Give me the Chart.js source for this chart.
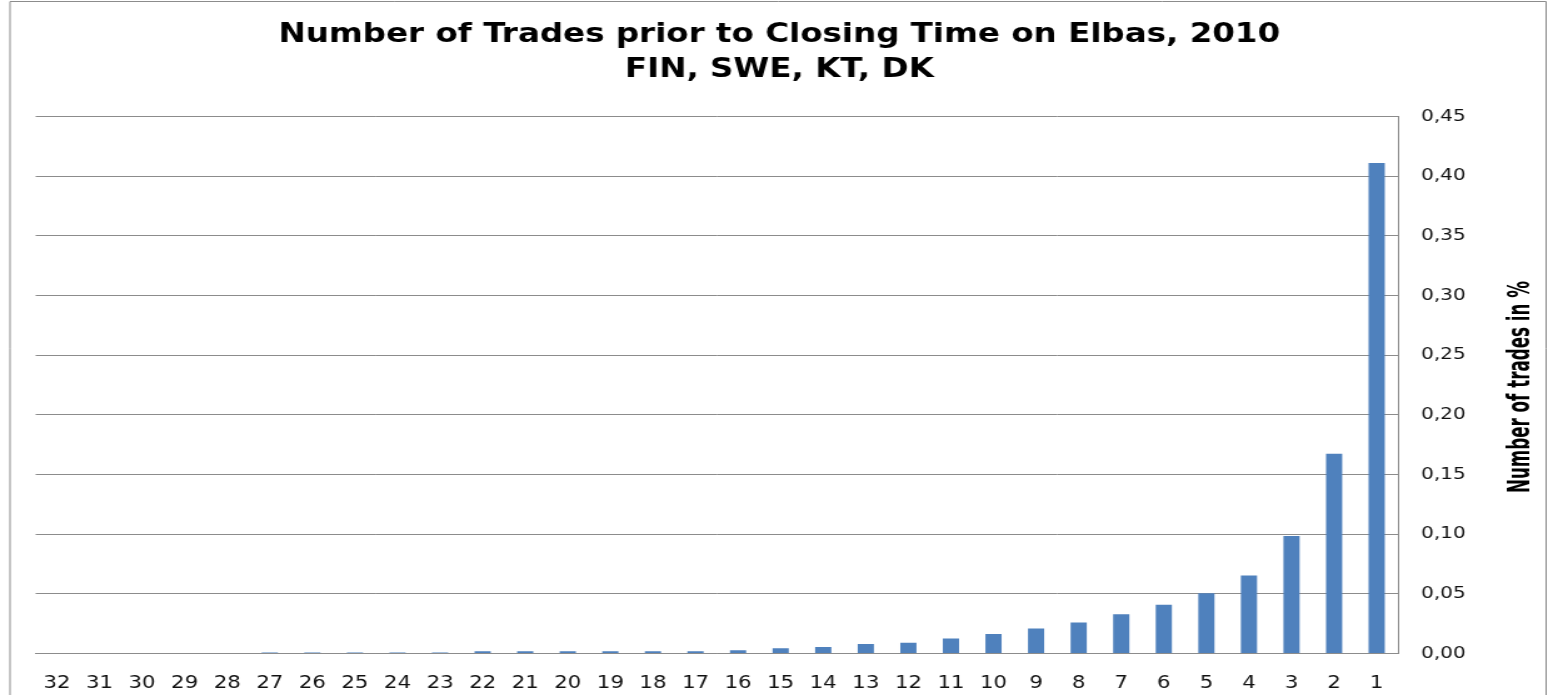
<!DOCTYPE html>
<html>
<head>
<meta charset="utf-8">
<script src="https://cdn.jsdelivr.net/npm/chart.js@4/dist/chart.umd.min.js"></script>
<style>
html,body{margin:0;padding:0;background:#fff;overflow:hidden;}
</style>
</head>
<body>
<canvas id="c" width="1238" height="695" style="width:1548px;height:695px;display:block;"></canvas>
<script>
const categories = ["32","31","30","29","28","27","26","25","24","23","22","21","20","19","18","17","16","15","14","13","12","11","10","9","8","7","6","5","4","3","2","1"];
const shareOfTrades = [0,0,0,0,0,0.001,0.001,0.001,0.001,0.001,0.002,0.002,0.002,0.002,0.002,0.002,0.0028,0.0045,0.0056,0.008,0.009,0.0126,0.0165,0.021,0.026,0.033,0.041,0.0505,0.0655,0.0986,0.1675,0.411];
const yTicks = [0,0.05,0.10,0.15,0.20,0.25,0.30,0.35,0.40,0.45];
const titleLines = ["Number of Trades prior to Closing Time on Elbas, 2010","FIN, SWE, KT, DK"];
const yAxisTitle = "Number of trades in %";

const framePlugin = {
  id:'frame',
  beforeDraw(chart){
    const ctx = chart.ctx;
    ctx.save();
    ctx.fillStyle='#fff';
    ctx.fillRect(0,0,chart.width,chart.height);
    ctx.strokeStyle='#8c8c8c';
    ctx.lineWidth=1;
    ctx.beginPath();
    ctx.moveTo(8,695);ctx.lineTo(8,1.5);ctx.lineTo(1236.5,1.5);ctx.lineTo(1236.5,695);
    ctx.stroke();
    ctx.restore();
  }
};

const axisTitlePlugin = {
  id:'axisTitle',
  afterDraw(chart){
    const ctx = chart.ctx, a = chart.chartArea;
    ctx.save();
    ctx.font = 'bold 24px "DejaVu Sans Condensed", "DejaVu Sans"';
    const w = ctx.measureText(yAxisTitle).width;
    ctx.translate(1217, (a.top + a.bottom)/2 + 2);
    ctx.rotate(-Math.PI/2);
    ctx.scale(212 / w, 1);
    ctx.fillStyle = '#000';
    ctx.textAlign = 'center';
    ctx.textBaseline = 'middle';
    ctx.fillText(yAxisTitle, 0, 0);
    ctx.restore();
  }
};

new Chart(document.getElementById('c'),{
  type:'bar',
  data:{labels:categories,datasets:[{data:shareOfTrades,backgroundColor:'#4f81bd',borderWidth:0,barPercentage:0.38,categoryPercentage:1}]},
  plugins:[framePlugin, axisTitlePlugin],
  options:{
    responsive:false,animation:false,
    layout:{padding:{left:28.5,right:20,top:0,bottom:-19}},
    plugins:{
      legend:{display:false},tooltip:{enabled:false},
      title:{display:true,text:titleLines,color:'#000',font:{family:'DejaVu Sans',size:26,weight:'bold',lineHeight:1.346},padding:{top:17.5,bottom:29}}
    },
    scales:{
      x:{
        grid:{display:false,drawTicks:false},
        border:{display:true,color:'#8c8c8c'},
        ticks:{color:'#111',font:{family:'DejaVu Sans',size:17},padding:20,maxRotation:0,autoSkip:false}
      },
      y:{
        position:'right',min:0,max:0.45,
        afterBuildTicks(axis){axis.ticks=yTicks.map(v=>({value:v}));},
        afterFit(axis){axis.width=100;},
        grid:{color:'#8c8c8c',drawTicks:false},
        border:{display:true,color:'#8c8c8c'},
        ticks:{color:'#111',font:{family:'DejaVu Sans',size:16},padding:18.5,callback:v=>v.toFixed(2).replace('.',',')}
      }
    }
  }
});
</script>
</body>
</html>
